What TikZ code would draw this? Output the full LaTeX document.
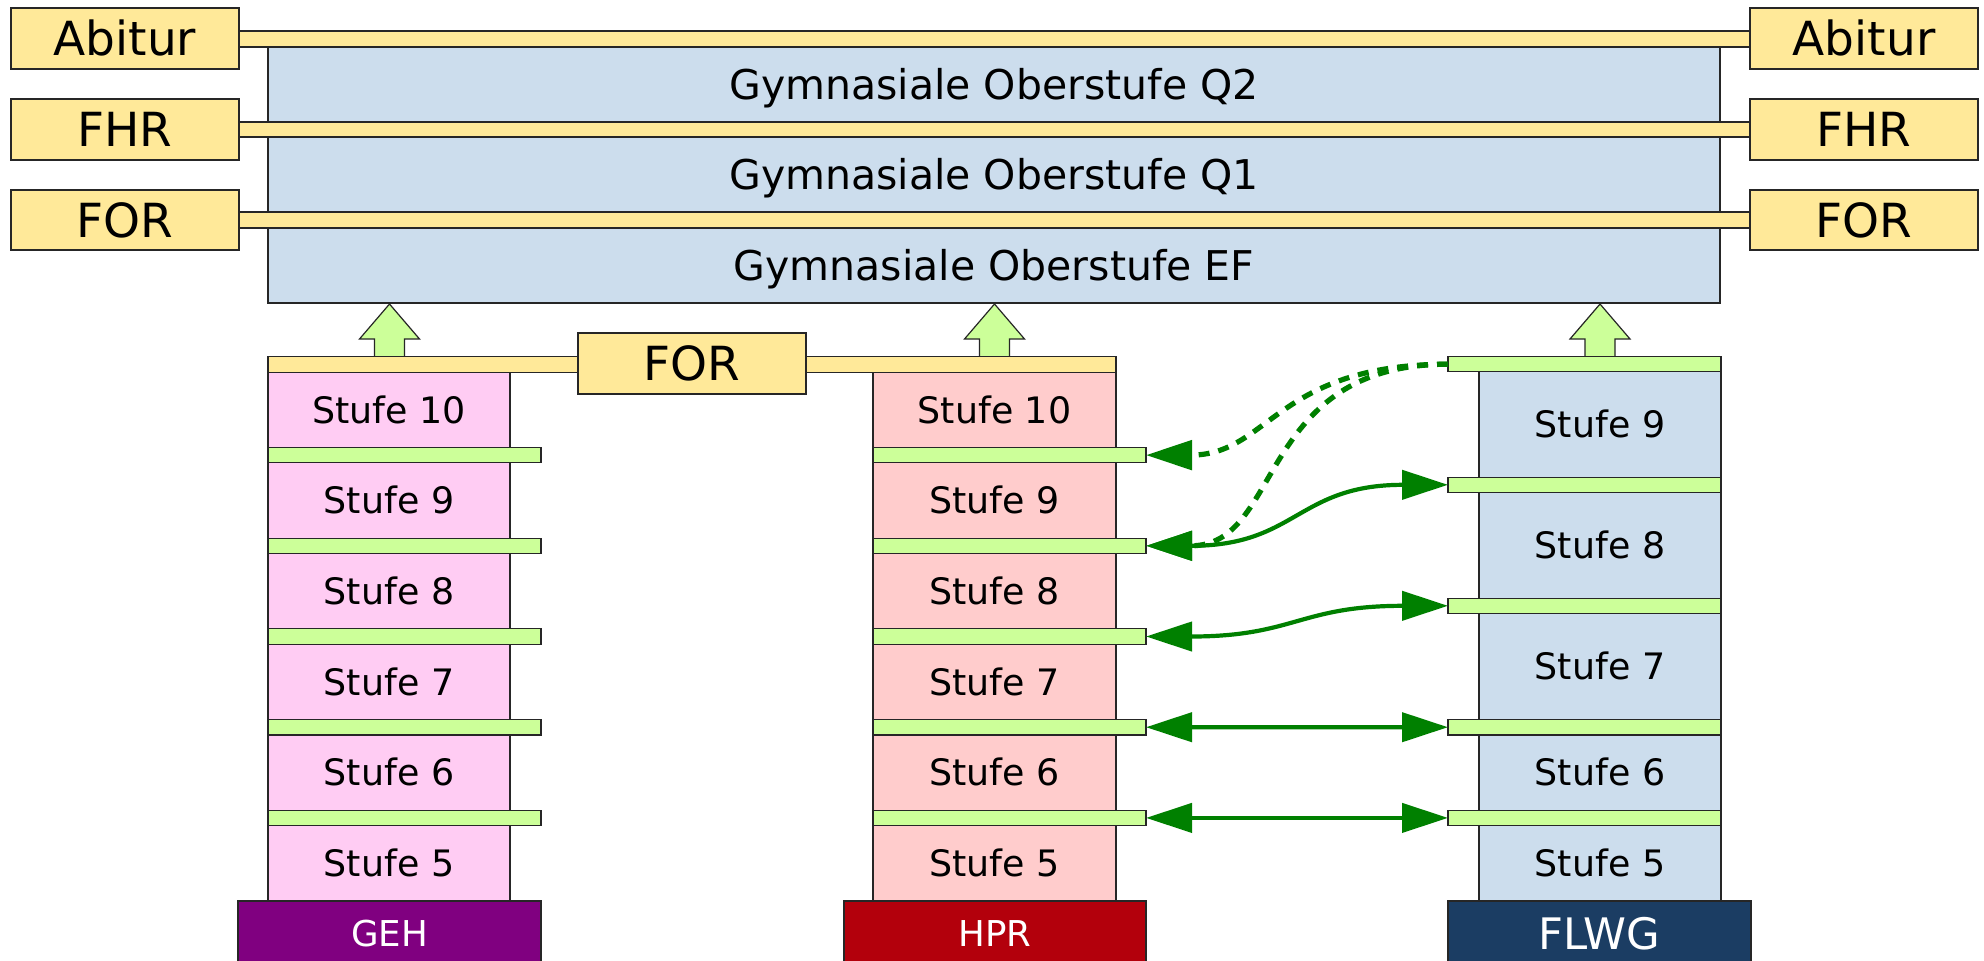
\documentclass[tikz,border=0pt]{standalone}
\usepackage{fontspec}
\setmainfont{DejaVu Sans}
\usetikzlibrary{arrows.meta}
\definecolor{ylw}{RGB}{255,233,153}
\definecolor{blu}{RGB}{204,221,237}
\definecolor{pnk}{RGB}{255,204,243}
\definecolor{slm}{RGB}{255,204,204}
\definecolor{grn}{RGB}{204,255,153}
\definecolor{dkgrn}{RGB}{0,128,0}
\definecolor{gehc}{RGB}{128,0,128}
\definecolor{hprc}{RGB}{179,0,12}
\definecolor{flwgc}{RGB}{27,61,99}
\newcommand{\bx}[7]{\node[#1, anchor=north west, minimum width={(#4-#2)*0.5pt}, minimum height={(#5-#3)*0.5pt}] (#6) at (#2,#3) {#7};}
\begin{document}
\begin{tikzpicture}[x=0.5pt,y=-0.5pt,
  box/.style={draw=black!85, line width=0.6pt, inner sep=0pt, outer sep=0pt, text depth=0pt},
  lbl/.style={box, fill=ylw, font=\fontsize{23.5pt}{26pt}\selectfont, text height=17.1pt},
  gym/.style={box, fill=blu, font=\fontsize{20.5pt}{23pt}\selectfont, text height=14.9pt},
  stufe/.style={box, font=\fontsize{18.2pt}{20pt}\selectfont, text height=13.3pt},
  ybar/.style={box, fill=ylw},
  gbar/.style={box, fill=grn},
  school/.style={box, text=white, font=\fontsize{17.8pt}{20pt}\selectfont, text height=13pt},
  uparr/.style={draw=black!85, line width=0.6pt, fill=grn, line join=miter},
  conn/.style={draw=dkgrn, line width=2.1pt, >={Triangle[length=23pt,width=14.5pt]}},
  dconn/.style={conn, line width=2.6pt, dash pattern=on 5.5pt off 4.5pt}
]
\useasboundingbox (0,0) rectangle (1984,960);
\fill[white] (0,0) rectangle (1984,960);

% Oberstufe
\bx{gym}{268}{47}{1720}{122}{q2}{Gymnasiale Oberstufe Q2}
\bx{gym}{268}{137}{1720}{212}{q1}{Gymnasiale Oberstufe Q1}
\bx{gym}{268}{228}{1720}{303}{ef}{Gymnasiale Oberstufe EF}
\bx{ybar}{239}{31}{1750}{47}{abibar}{}
\bx{ybar}{239}{122}{1750}{137}{fhrbar}{}
\bx{ybar}{239}{212}{1750}{228}{forbar}{}
\bx{lbl}{11}{8}{239}{69}{abiL}{Abitur}
\bx{lbl}{11}{99}{239}{160}{fhrL}{FHR}
\bx{lbl}{11}{190}{239}{250}{forL}{FOR}
\bx{lbl}{1750}{8}{1978}{69}{abiR}{Abitur}
\bx{lbl}{1750}{99}{1978}{160}{fhrR}{FHR}
\bx{lbl}{1750}{190}{1978}{250}{forR}{FOR}

% up arrows
\foreach \cx in {389.5,994.5,1600} {
  \filldraw[uparr] (\cx-15,357) -- (\cx-15,339) -- (\cx-30,339) -- (\cx,304) -- (\cx+30,339) -- (\cx+15,339) -- (\cx+15,357);
}

% GEH and HPR columns
\foreach \n/\j in {10/0,9/1,8/2,7/3,6/4,5/5} {
  \pgfmathsetmacro\ya{372.1+90.7*\j}
  \pgfmathsetmacro\yb{447.4+90.7*\j}
  \bx{stufe, fill=pnk}{268}{\ya}{510}{\yb}{g\n}{Stufe \n}
  \bx{stufe, fill=slm}{873}{\ya}{1116}{\yb}{h\n}{Stufe \n}
}
\foreach \j in {1,...,5} {
  \pgfmathsetmacro\ya{356.7+90.7*\j}
  \pgfmathsetmacro\yb{\ya+15.4}
  \bx{gbar}{268}{\ya}{541}{\yb}{gb\j}{}
  \bx{gbar}{873}{\ya}{1146}{\yb}{hb\j}{}
}
\bx{ybar}{268}{356.7}{1116}{372.1}{forlow}{}
\bx{lbl}{578}{333}{806}{394}{forM}{FOR}

% FLWG column
\bx{stufe, fill=blu}{1479}{371.7}{1721}{477.3}{f9}{Stufe 9}
\bx{stufe, fill=blu}{1479}{492.3}{1721}{598.3}{f8}{Stufe 8}
\bx{stufe, fill=blu}{1479}{613.3}{1721}{719.5}{f7}{Stufe 7}
\bx{stufe, fill=blu}{1479}{734.9}{1721}{810.2}{f6}{Stufe 6}
\bx{stufe, fill=blu}{1479}{825.6}{1721}{900.9}{f5}{Stufe 5}
\bx{gbar}{1448}{356.7}{1721}{371.7}{fb0}{}
\bx{gbar}{1448}{477.3}{1721}{492.3}{fb1}{}
\bx{gbar}{1448}{598.3}{1721}{613.3}{fb2}{}
\bx{gbar}{1448}{719.5}{1721}{734.9}{fb3}{}
\bx{gbar}{1448}{810.2}{1721}{825.6}{fb4}{}

% school labels
\bx{school, fill=gehc}{238}{900.9}{541}{966}{geh}{GEH}
\bx{school, fill=hprc}{844}{900.9}{1146}{966}{hpr}{HPR}
\bx{school, fill=flwgc, font=\fontsize{21.7pt}{24pt}\selectfont, text height=15.8pt}{1448}{900.9}{1751}{966}{flwg}{FLWG}

% connectors
\draw[dconn,->] (fb0.west) to[out=180,in=0,out looseness=1.4,in looseness=1.0] (hb1.east);
\draw[dconn,->] (fb0.west) to[out=180,in=0,out looseness=1.4,in looseness=1.0] (hb2.east);
\draw[conn,<->] (hb2.east) to[out=0,in=180,looseness=1.25] (fb1.west);
\draw[conn,<->] (hb3.east) to[out=0,in=180,looseness=1.25] (fb2.west);
\draw[conn,<->] (hb4.east) -- (fb3.west);
\draw[conn,<->] (hb5.east) -- (fb4.west);
\end{tikzpicture}
\end{document}
